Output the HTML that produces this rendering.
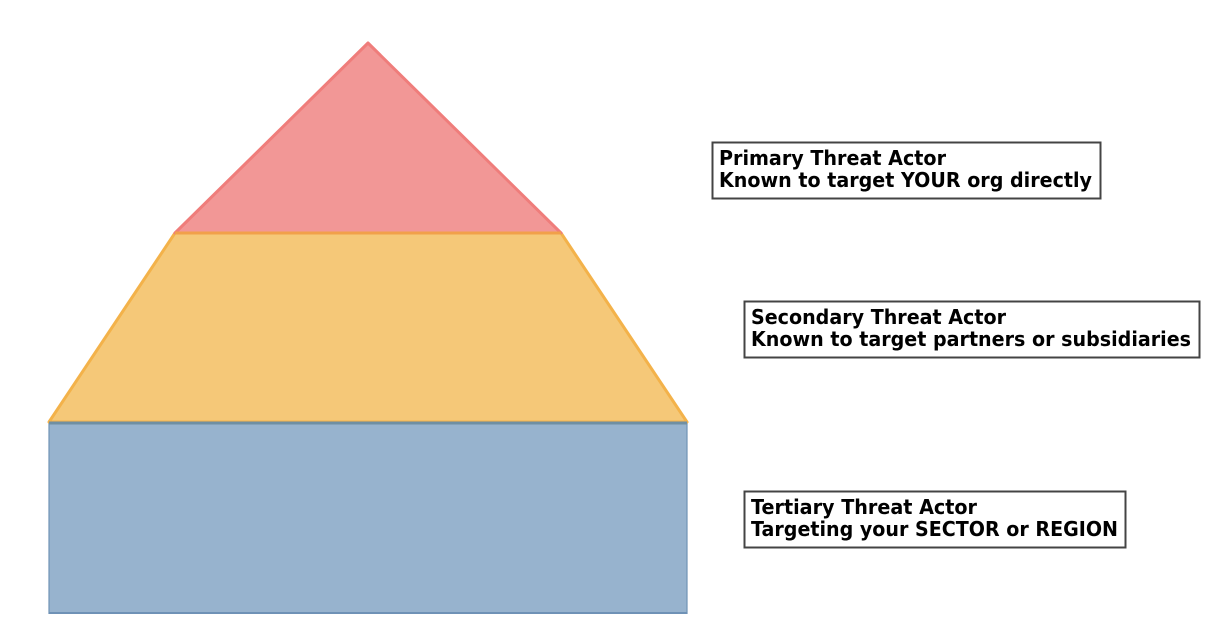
<!DOCTYPE html>
<html><head><meta charset="utf-8"><style>
html,body{margin:0;padding:0;background:#fff;width:1226px;height:634px;overflow:hidden}
svg{display:block}
text{font-family:"DejaVu Sans","Liberation Sans",sans-serif;font-weight:bold;font-size:20px;fill:#000}
</style></head><body>
<svg width="1226" height="634" viewBox="0 0 1226 634" xmlns="http://www.w3.org/2000/svg">
<polygon points="49,422 687,422 687,613 49,613" fill="#97b3ce" stroke="#6f92b6" stroke-width="2" stroke-opacity="0.6"/>
<line x1="49" y1="613" x2="687" y2="613" stroke="#6f92b6" stroke-width="2"/>
<polygon points="175,233 561,233 687,422 49,422" fill="#f5c878" stroke="#f3b24a" stroke-width="3" stroke-linejoin="round"/>
<polygon points="368,43 561,233 175,233" fill="#f29796" stroke="#ef7d7b" stroke-width="3" stroke-linejoin="round"/>
<line x1="175" y1="233" x2="561" y2="233" stroke="#f1a04a" stroke-width="3"/>
<line x1="49" y1="423" x2="687" y2="423" stroke="#6f8fa3" stroke-width="3"/>

<rect x="712.5" y="142.5" width="388" height="56" fill="#fff" stroke="#444" stroke-width="2"/>
<text x="719" y="165" textLength="227" lengthAdjust="spacingAndGlyphs">Primary Threat Actor</text>
<text x="719" y="187" textLength="373" lengthAdjust="spacingAndGlyphs">Known to target YOUR org directly</text>

<rect x="744.5" y="301.5" width="455" height="56" fill="#fff" stroke="#444" stroke-width="2"/>
<text x="751" y="324" textLength="255" lengthAdjust="spacingAndGlyphs">Secondary Threat Actor</text>
<text x="751" y="346" textLength="440" lengthAdjust="spacingAndGlyphs">Known to target partners or subsidiaries</text>

<rect x="744.5" y="491.5" width="381" height="56" fill="#fff" stroke="#444" stroke-width="2"/>
<text x="751" y="514" textLength="226" lengthAdjust="spacingAndGlyphs">Tertiary Threat Actor</text>
<text x="751" y="536" textLength="367" lengthAdjust="spacingAndGlyphs">Targeting your SECTOR or REGION</text>
</svg>
</body></html>
